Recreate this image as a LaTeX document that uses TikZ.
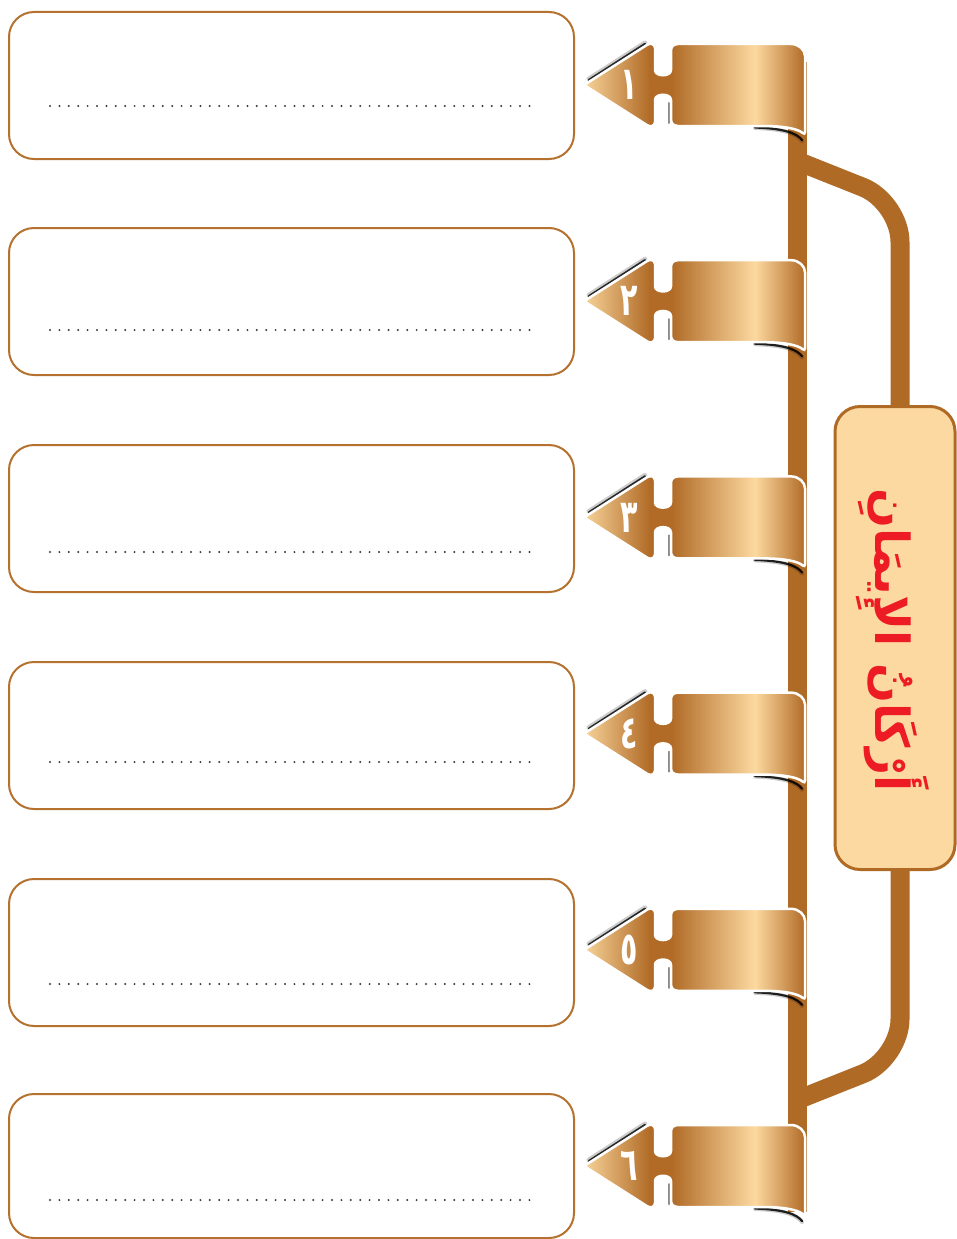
\documentclass[tikz,border=0pt]{standalone}
\usepackage{fontspec}
\usepackage{graphicx}
\newfontfamily\arabicfont[Script=Arabic]{DejaVu Sans}
\TeXXeTstate=1
\definecolor{brn}{HTML}{AF6A26}
\definecolor{rlight}{HTML}{F7D399}
\definecolor{rlight2}{HTML}{FCD9A0}
\definecolor{rbrown}{HTML}{B16B27}
\definecolor{boxborder}{HTML}{B5722F}
\definecolor{cbfill}{HTML}{FCD9A1}
\definecolor{titlered}{HTML}{ED1C24}
\definecolor{dotcol}{HTML}{3A3A3A}
\pgfdeclarehorizontalshading{ribbonshade}{100bp}{color(0bp)=(rlight); color(25bp)=(rlight); color(39.9bp)=(rbrown); color(44.9bp)=(rbrown); color(63.7bp)=(rlight2); color(75bp)=(rbrown); color(100bp)=(rbrown)}
\tikzset{
  answerbox/.style={draw=boxborder, line width=2pt, rounded corners=25pt, minimum width=565pt, inner sep=0pt, fill=white},
  numstyle/.style={text=white, font=\arabicfont\bfseries\fontsize{46}{46}\selectfont, inner sep=0pt},
  brk/.style={draw=brn, line width=19pt, rounded corners=40pt},
  centerbox/.style={draw=brn, line width=3pt, fill=cbfill, rounded corners=25pt, minimum width=120pt, minimum height=463pt, inner sep=0pt},
  titlestyle/.style={text=titlered, font=\arabicfont\bfseries\fontsize{47}{50}\selectfont, rotate=-90, inner sep=0pt},
  shad/.style={draw=black, line cap=round},
}
\newcommand\ribbonpath{(584,0) -- (650,-42) -- (655,-40) -- (655,-18) .. controls (655,-8) and (671,-8) .. (671,-18) -- (671,-38) -- (675,-41) -- (788,-41) .. controls (799,-41) and (805,-35) .. (805,-26) -- (805,50) .. controls (798,44) and (785,41) .. (760,41) -- (675,41) -- (671,38) -- (671,18) .. controls (671,8) and (655,8) .. (655,18) -- (655,40) -- (650,42) -- cycle}
\newcommand\ribbonat[3]{%
  \begin{scope}[shift={(0,#1)}]
    \draw[shad, line width=5pt, opacity=.2] (589,-6) -- (645,-42);
    \draw[shad, line width=2.4pt, opacity=.8] (589,-5) -- (645,-41);
    \draw[shad, line width=2pt, opacity=.45] (669,18) -- (669,38);
    \draw[shad, line width=4pt, opacity=.2] (755,43) .. controls (785,44) and (797,49) .. (802,56);
    \draw[shad, line width=2.2pt, opacity=.85] (755,42.5) .. controls (785,43.5) and (797,48.5) .. (802,55);
    \path[shading=ribbonshade, draw=white, line width=2.5pt, rounded corners=3pt] \ribbonpath;
    \node[numstyle] (n#3) at (629,0) {\scalebox{0.62}[1]{#2}};
  \end{scope}}
\begin{document}
\begin{tikzpicture}[x=1pt,y=-1pt]
\useasboundingbox (0,0) rectangle (957,1239);
\fill[white] (0,0) rectangle (957,1239);
% answer boxes
\foreach \i/\t/\d/\h in {1/11/106/147,2/227/330/147,3/444/552/147,4/661/762/147,5/878/984/147,6/1093/1200/144}{
  \node[answerbox, minimum height=\h pt, anchor=north west] (b\i) at (8,\t) {};
  \foreach \k in {0,...,51}{
    \fill[dotcol] ({50+9.4*\k},\d) circle (1.1pt);
  }
}
% vertical bar
\fill[brn] (788,62) rectangle (807,1212);
% bracket
\coordinate (bt) at (797,161);
\coordinate (bb) at (797,1100);
\draw[brk] (bt) -- (900,202) -- (900,1059) -- (bb);
% central box
\node[centerbox] (cb) at (895,638) {};
\node[titlestyle] (title) at (893,640) {\beginR أَرْكَانُ الإِيمَانِ\endR};
% ribbons
\ribbonat{85}{١}{1}
\ribbonat{301.2}{٢}{2}
\ribbonat{517.4}{٣}{3}
\ribbonat{733.6}{٤}{4}
\ribbonat{949.8}{٥}{5}
\ribbonat{1166}{٦}{6}
\end{tikzpicture}
\end{document}
